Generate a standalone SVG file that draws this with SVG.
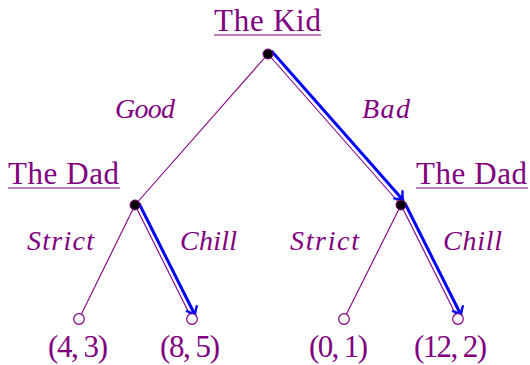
<svg xmlns="http://www.w3.org/2000/svg" width="530" height="365" viewBox="0 0 530 365">
<defs>
<style>
.t{font-family:"Liberation Serif","Times New Roman",serif;font-size:31px;fill:#800080}
.i{font-family:"Liberation Serif","Times New Roman",serif;font-size:28px;font-style:italic;fill:#800080}
.u{stroke:#800080;stroke-width:1.2}
.e{stroke:#800080;stroke-width:1.1;fill:none}
.b{stroke:#0000ff;stroke-width:3;fill:none;marker-end:url(#ah)}
.n{fill:#000;stroke:#800080;stroke-width:1}
.l{fill:#fff;stroke:#800080;stroke-width:1.2}
</style>
<marker id="ah" markerWidth="14" markerHeight="14" refX="1" refY="0" viewBox="-8 -7 10 14" orient="auto" markerUnits="userSpaceOnUse">
<path d="M-6,-5.5 Q-1,-1 1,0 Q-1,1 -6,5.5" fill="none" stroke="#0000ff" stroke-width="2.4" stroke-linecap="round"/>
</marker>
</defs>
<g id="connectors">
<line class="e" x1="268" y1="54" x2="135" y2="205"/>
<line class="e" x1="268" y1="54" x2="401" y2="205"/>
<line class="e" x1="135" y1="205" x2="79" y2="319"/>
<line class="e" x1="135" y1="205" x2="192" y2="319"/>
<line class="e" x1="401" y1="205" x2="344" y2="319"/>
<line class="e" x1="401" y1="205" x2="458" y2="319"/>
<line class="b" x1="271.5" y1="51" x2="403" y2="200"/>
<line class="b" x1="138.8" y1="203" x2="195" y2="315"/>
<line class="b" x1="404.8" y1="203" x2="461" y2="315"/>
<text class="i" x="115" y="118" textLength="60">Good</text>
<text class="i" x="362" y="118" textLength="48">Bad</text>
<text class="i" x="27" y="250" textLength="67">Strict</text>
<text class="i" x="180" y="250" textLength="57">Chill</text>
<text class="i" x="290" y="250" textLength="69">Strict</text>
<text class="i" x="443" y="250" textLength="59">Chill</text>
</g>
<g id="kid">
<circle class="n" cx="268" cy="54" r="5"/>
<text class="t" x="214" y="31" textLength="107">The Kid</text>
<line class="u" x1="214" y1="35" x2="321" y2="35"/>
</g>
<g id="dad-left">
<circle class="n" cx="135" cy="205" r="5"/>
<text class="t" x="8" y="184" textLength="111">The Dad</text>
<line class="u" x1="8" y1="188" x2="120" y2="188"/>
</g>
<g id="dad-right">
<circle class="n" cx="401" cy="205" r="5"/>
<text class="t" x="416" y="184" textLength="111">The Dad</text>
<line class="u" x1="416" y1="188" x2="528" y2="188"/>
</g>
<g id="leaf1">
<circle class="l" cx="79" cy="319" r="5.3"/>
<text class="t" x="48" y="357" textLength="60">(4, 3)</text>
</g>
<g id="leaf2">
<circle class="l" cx="192" cy="319" r="5.3"/>
<text class="t" x="160" y="357" textLength="60">(8, 5)</text>
</g>
<g id="leaf3">
<circle class="l" cx="344" cy="319" r="5.3"/>
<text class="t" x="309" y="357" textLength="59">(0, 1)</text>
</g>
<g id="leaf4">
<circle class="l" cx="458" cy="319" r="5.3"/>
<text class="t" x="414" y="357" textLength="73">(12, 2)</text>
</g>
</svg>
